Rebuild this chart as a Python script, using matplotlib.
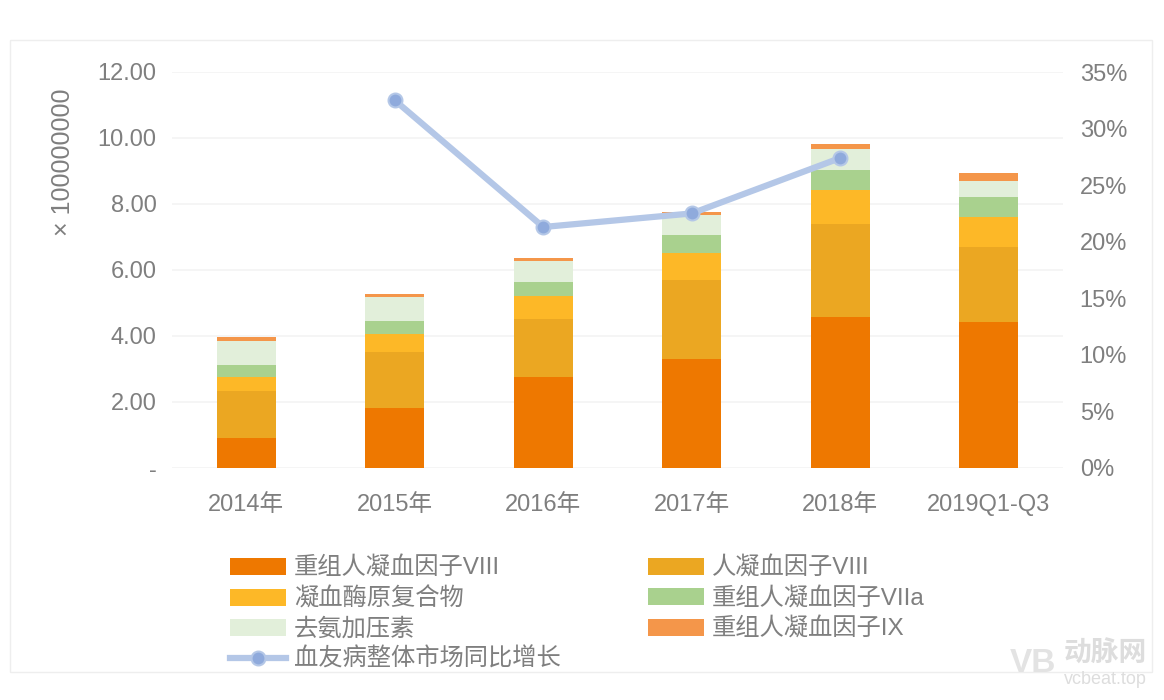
import matplotlib
matplotlib.use("Agg")
import matplotlib.pyplot as plt
from matplotlib.patches import Rectangle
from matplotlib.lines import Line2D
import numpy as np

plt.rcParams['font.family'] = ['Liberation Sans', 'Noto Sans CJK SC', 'DejaVu Sans']

categories = ["2014年", "2015年", "2016年", "2017年", "2018年", "2019Q1-Q3"]
rec_viii = [0.91, 1.83, 2.76, 3.31, 4.58, 4.42]
human_viii = [1.42, 1.69, 1.76, 2.39, 2.81, 2.28]
prothrombin = [0.43, 0.55, 0.68, 0.82, 1.04, 0.91]
rec_viia = [0.36, 0.38, 0.44, 0.55, 0.61, 0.60]
desmopressin = [0.74, 0.74, 0.63, 0.60, 0.64, 0.50]
rec_ix = [0.10, 0.08, 0.09, 0.09, 0.14, 0.22]
growth = [None, 32.5, 21.3, 22.5, 27.4, None]

series_names = ["重组人凝血因子VIII", "人凝血因子VIII", "凝血酶原复合物",
                "重组人凝血因子VIIa", "去氨加压素", "重组人凝血因子IX"]
line_name = "血友病整体市场同比增长"
y_ticks = [0, 2, 4, 6, 8, 10, 12]
y_ticklabels = ["-", "2.00", "4.00", "6.00", "8.00", "10.00", "12.00"]
y2_ticks = [0, 5, 10, 15, 20, 25, 30, 35]

colors = ["#EE7800", "#EBA722", "#FDB827", "#A9D18E", "#E2EFDA", "#F4964A"]
line_color = "#B4C7E7"
marker_color = "#8FAADC"
text_color = "#7F7F7F"

W, H = 1164, 700
fig = plt.figure(figsize=(W / 100, H / 100), dpi=100)

# outer frame
fig.add_artist(Rectangle((10 / W, 1 - 672 / H), (1152 - 10) / W, (672 - 40) / H,
                         transform=fig.transFigure, fill=False, ec="#EEEEEE", lw=1))

ax = fig.add_axes([172 / W, 1 - 468 / H, (1063 - 172) / W, (468 - 72) / H])
x = np.arange(len(categories))
data = [rec_viii, human_viii, prothrombin, rec_viia, desmopressin, rec_ix]
bottom = np.zeros(len(categories))
bar_handles = []
for vals, c, name in zip(data, colors, series_names):
    b = ax.bar(x, vals, width=0.4, bottom=bottom, color=c, label=name, zorder=2)
    bar_handles.append(b)
    bottom += np.array(vals)

ax.set_xlim(-0.5, len(categories) - 0.5)
ax.set_ylim(0, 12)
ax.set_yticks(y_ticks)
ax.set_yticklabels(y_ticklabels)
ax.grid(axis="y", color="#F3F3F3", lw=1.2, zorder=0)
ax.set_xticks(x)
ax.set_xticklabels(categories)
for s in ax.spines.values():
    s.set_visible(False)
ax.tick_params(axis="both", length=0, colors=text_color, labelsize=17)
ax.tick_params(axis="y", pad=11)
ax.tick_params(axis="x", pad=19)
for lbl in ax.get_yticklabels() + ax.get_xticklabels():
    lbl.set_color(text_color)

ax2 = ax.twinx()
ax2.set_ylim(0, 35)
ax2.set_yticks(y2_ticks)
ax2.set_yticklabels([f"{v}%" for v in y2_ticks])
for s in ax2.spines.values():
    s.set_visible(False)
ax2.tick_params(axis="y", length=0, colors=text_color, labelsize=17, pad=12)
gx = [i for i, g in enumerate(growth) if g is not None]
gy = [g for g in growth if g is not None]
ln, = ax2.plot(gx, gy, color=line_color, lw=4.5, marker="o", markersize=10,
               markerfacecolor=marker_color, markeredgecolor=line_color,
               markeredgewidth=1.5, zorder=3, label=line_name)

fig.text(63 / W, 1 - 162 / H, "× 100000000", rotation=90, ha="center", va="center",
         fontsize=18, color=text_color)

handles = [bar_handles[0], bar_handles[2], bar_handles[4], ln,
           bar_handles[1], bar_handles[3], bar_handles[5]]
labels = [series_names[0], series_names[2], series_names[4], line_name,
          series_names[1], series_names[3], series_names[5]]
leg = fig.legend(handles, labels, ncol=2, loc="upper left",
                 bbox_to_anchor=(230 / W, 1 - 557 / H), frameon=False,
                 fontsize=17.5, handlelength=2.3, handleheight=0.7,
                 labelspacing=0.3, columnspacing=3.6, handletextpad=0.33,
                 borderpad=0, borderaxespad=0)
for t in leg.get_texts():
    t.set_color(text_color)

# watermark
fig.text(1105 / W, 1 - 655 / H, "动脉网", fontsize=20, color="#DDDDDD",
         ha="center", va="center", fontweight="bold")
fig.text(1105 / W, 1 - 679 / H, "vcbeat.top", fontsize=13, color="#DDDDDD",
         ha="center", va="center")
fig.text(1033 / W, 1 - 664 / H, "VB", fontsize=24, color="#E3E3E3",
         ha="center", va="center", fontweight="bold")

fig.savefig("out.png", dpi=100, facecolor="white")
